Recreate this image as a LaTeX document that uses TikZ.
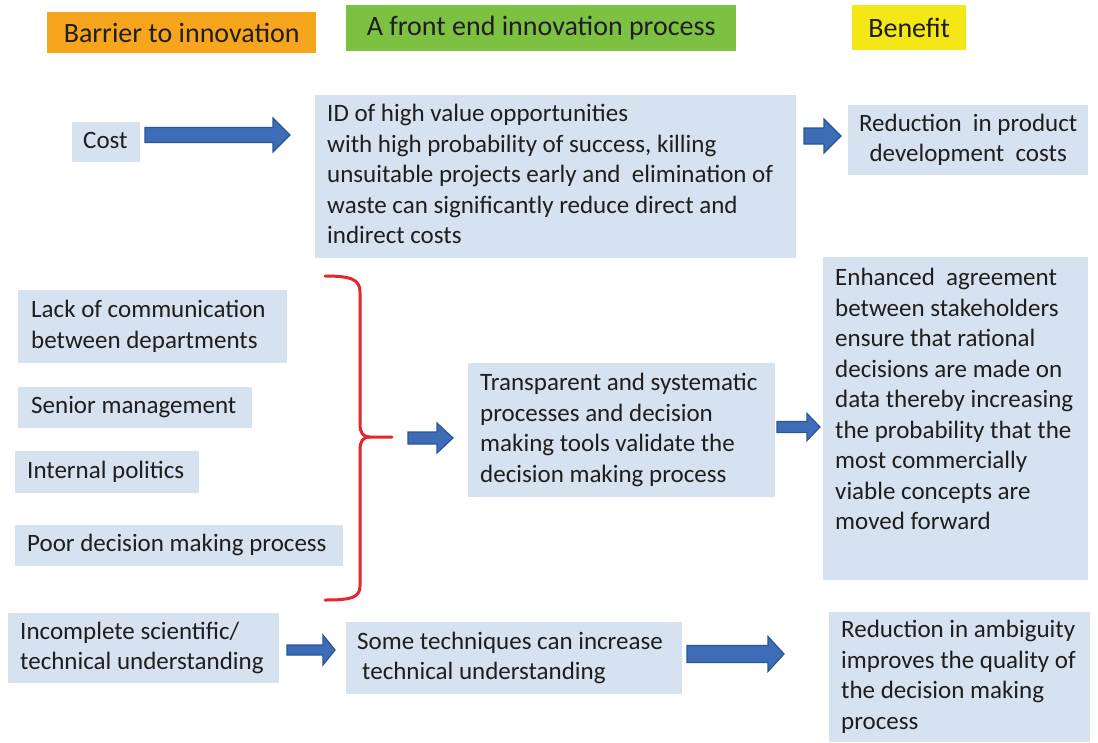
\documentclass[tikz,border=0pt]{standalone}
\usepackage{fontspec}
\setmainfont{Carlito}
\definecolor{boxblue}{HTML}{D7E2F0}
\definecolor{arrfill}{HTML}{3E6DB7}
\definecolor{arrline}{HTML}{2C5496}
\definecolor{bracered}{HTML}{E5262C}
\definecolor{hdorange}{HTML}{F7A51C}
\definecolor{hdgreen}{HTML}{7CC142}
\definecolor{hdyellow}{HTML}{F4E716}
\definecolor{ink}{HTML}{1E1E1E}
\newcommand\leftlines[2]{\makebox[#1][l]{\begin{tabular}{@{}l@{}}#2\end{tabular}}}
\newcommand\midlines[2]{\makebox[#1][c]{\begin{tabular}{@{}c@{}}#2\end{tabular}}}
\newcommand\blockarrow[6]{% x1, x2, yc, shaft half, head half, head length
  \draw[arr] (#1,{#3-#4}) -- ({#2-#6},{#3-#4}) -- ({#2-#6},{#3-#5}) -- (#2,#3)
    -- ({#2-#6},{#3+#5}) -- ({#2-#6},{#3+#4}) -- (#1,{#3+#4}) -- cycle;}
\tikzset{
  bx/.style={fill=boxblue, draw=none, anchor=north west, inner ysep=0pt, text=ink,
    font=\fontsize{25}{30.5}\selectfont},
  hd/.style={anchor=north west, inner sep=0pt, text=ink, font=\fontsize{28}{34}\selectfont},
  arr/.style={fill=arrfill, draw=arrline, line width=1.2pt, line join=miter},
  bracestyle/.style={draw=bracered, line width=3pt, line cap=round, line join=round}
}
\begin{document}
\begin{tikzpicture}[x=1pt,y=-1pt]
\useasboundingbox (0,0) rectangle (1098,742);
% headers
\node[hd, fill=hdorange, minimum width=269pt, minimum height=41pt] (h1) at (47,12) {Barrier to innovation};
\node[hd, fill=hdgreen, minimum width=390pt, minimum height=46pt] (h2) at (346,5) {A front end innovation process};
\node[hd, fill=hdyellow, minimum width=114pt, minimum height=45pt] (h3) at (852,5) {Benefit};
% row 1
\node[bx, inner xsep=11pt, minimum height=40pt] (cost) at (72,122) {\leftlines{46pt}{Cost}};
\node[bx, inner xsep=12pt, minimum height=163pt] (idv) at (315,95) {\leftlines{457pt}{ID of high value opportunities\\
with high probability of success, killing\\
unsuitable projects early and\ \ elimination of\\
waste can significantly reduce direct and\\
indirect costs}};
\node[bx, inner xsep=12pt, minimum height=70pt] (redcost) at (848,105) {\midlines{216pt}{Reduction\ \ in product\\development\ \ costs}};
% row 2
\node[bx, inner xsep=13pt, minimum height=73pt] (lack) at (18,290) {\leftlines{243pt}{Lack of communication\\between departments}};
\node[bx, inner xsep=13pt, minimum height=41pt] (senior) at (18,387) {\leftlines{208pt}{Senior management}};
\node[bx, inner xsep=12pt, minimum height=42pt] (politics) at (15,451) {\leftlines{160pt}{Internal politics}};
\node[bx, inner xsep=12pt, minimum height=41pt] (poor) at (15,525) {\leftlines{304pt}{Poor decision making process}};
\node[bx, inner xsep=12pt, minimum height=134pt] (transp) at (468,363) {\leftlines{283pt}{Transparent and systematic\\
processes and decision\\
making tools validate the\\
decision making process}};
\node[bx, inner xsep=12pt, minimum height=323pt] (enh) at (823,257) {\leftlines{241pt}{Enhanced\ \ agreement\\
between stakeholders\\
ensure that rational\\
decisions are made on\\
data thereby increasing\\
the probability that the\\
most commercially\\
viable concepts are\\
moved forward\\[34pt]}};
% row 3
\node[bx, inner xsep=12pt, minimum height=70pt] (incomp) at (8,613) {\leftlines{247pt}{Incomplete scientific/\\technical understanding}};
\node[bx, inner xsep=11pt, minimum height=72pt] (some) at (346,622) {\leftlines{314pt}{Some techniques can increase\\\hspace{5pt}technical understanding}};
\node[bx, inner xsep=12pt, minimum height=130pt] (redamb) at (829,612) {\leftlines{237pt}{Reduction in ambiguity\\
improves the quality of\\
the decision making\\
process}};
% brace
\draw[bracestyle] (325,276) .. controls (350,276) and (360,279) .. (360,292)
  -- (360,424) .. controls (360,433) and (363,437) .. (370,437) -- (392,437);
\draw[bracestyle] (370,437) .. controls (363,437) and (360,441) .. (360,450)
  -- (360,586) .. controls (360,598) and (350,600) .. (325,600);
% block arrows
\blockarrow{145}{290}{135}{7.5}{17}{17}
\blockarrow{804}{841}{136}{8}{17}{17}
\blockarrow{408}{453}{438}{6}{15}{16}
\blockarrow{777}{820}{427}{5.5}{13.5}{13}
\blockarrow{287}{335}{650}{5}{15}{12}
\blockarrow{687}{784}{654}{8.5}{17.5}{16}
\end{tikzpicture}
\end{document}
